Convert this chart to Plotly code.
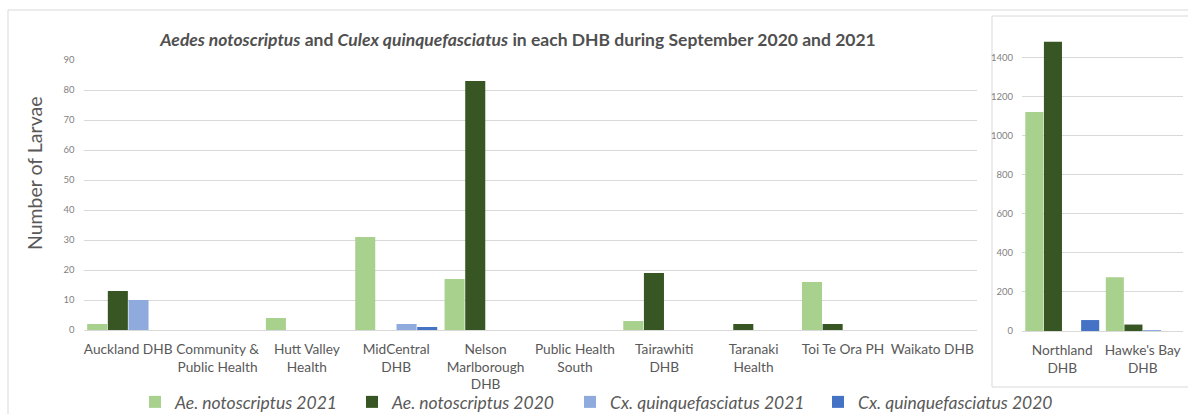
import plotly.graph_objects as go

W, H = 1188, 414

# ---------------- data ----------------
left_cats = ["Auckland DHB", "Community & Public Health", "Hutt Valley Health",
             "MidCentral DHB", "Nelson Marlborough DHB", "Public Health South",
             "Tairawhiti DHB", "Taranaki Health", "Toi Te Ora PH", "Waikato DHB"]
left_tick_text = ["Auckland DHB", "Community &<br>Public Health", "Hutt Valley<br>Health",
                  "MidCentral<br>DHB", "Nelson<br>Marlborough<br>DHB", "Public Health<br>South",
                  "Tairawhiti<br>DHB", "Taranaki<br>Health", "Toi Te Ora PH", "Waikato DHB"]
right_cats = ["Northland DHB", "Hawke's Bay DHB"]
right_tick_text = ["Northland<br>DHB", "Hawke's Bay<br>DHB"]

ae2021_left = [2, 0, 4, 31, 17, 0, 3, 0, 16, 0]
ae2020_left = [13, 0, 0, 0, 83, 0, 19, 2, 2, 0]
cx2021_left = [10, 0, 0, 2, 0, 0, 0, 0, 0, 0]
cx2020_left = [0, 0, 0, 1, 0, 0, 0, 0, 0, 0]

ae2021_right = [1120, 275]
ae2020_right = [1480, 33]
cx2021_right = [0, 5]
cx2020_right = [56, 0]

series_names = ["<i>Ae. notoscriptus 2021</i>", "<i>Ae. notoscriptus 2020</i>",
                "<i>Cx. quinquefasciatus 2021</i>", "<i>Cx. quinquefasciatus 2020</i>"]
colors = ["#A9D18E", "#375623", "#8FAADC", "#4472C4"]

left_vals = [ae2021_left, ae2020_left, cx2021_left, cx2020_left]
right_vals = [ae2021_right, ae2020_right, cx2021_right, cx2020_right]


def px_x(p):
    return p / W


def px_y(p):
    return 1 - p / H


FONT = "Lato"
legend_ids = ["legend", "legend2", "legend3", "legend4"]
legend_x_px = [135, 352, 570, 818]

fig = go.Figure()
for i in range(4):
    fig.add_trace(go.Bar(x=left_cats, y=left_vals[i], name=series_names[i],
                         marker=dict(color=colors[i], line=dict(width=0)),
                         legendgroup=str(i), legend=legend_ids[i], xaxis="x", yaxis="y"))
for i in range(4):
    fig.add_trace(go.Bar(x=right_cats, y=right_vals[i], name=series_names[i],
                         marker=dict(color=colors[i], line=dict(width=0)),
                         legendgroup=str(i), legend=legend_ids[i], showlegend=False,
                         xaxis="x2", yaxis="y2"))

grid = "#D9D9D9"
legend_layout = {}
for i in range(4):
    legend_layout[legend_ids[i]] = dict(
        orientation="h", x=px_x(legend_x_px[i]), xanchor="left", y=px_y(402),
        yanchor="middle", font=dict(family=FONT, size=17.5, color="#595959"),
        bgcolor="rgba(0,0,0,0)")

tick_common = dict(showgrid=False, showline=False, ticks="", ticklabelstandoff=9,
                   tickangle=0, automargin=False, type="category",
                   tickfont=dict(family=FONT, size=13.7, color="#595959"))
ytick_common = dict(showgrid=True, gridcolor=grid, gridwidth=1, zeroline=True,
                    zerolinecolor=grid, zerolinewidth=1, showline=False, ticks="",
                    ticklabelstandoff=8, automargin=False,
                    tickfont=dict(family=FONT, size=9.5, color="#7F7F7F"))

fig.update_layout(
    width=W, height=H,
    margin=dict(l=0, r=0, t=0, b=0, autoexpand=False),
    paper_bgcolor="white", plot_bgcolor="rgba(0,0,0,0)",
    font=dict(family=FONT, color="#595959"),
    barmode="group", bargap=0.075, bargroupgap=0.03,
    title=dict(text="<b><i>Aedes notoscriptus</i> and <i>Culex quinquefasciatus</i> in each DHB during September 2020 and 2021</b>",
               x=px_x(518), xanchor="center", y=px_y(40), yanchor="middle",
               font=dict(family=FONT, size=17.5, color="#505050")),
    xaxis=dict(domain=[px_x(83.5), px_x(977)], anchor="y",
               tickvals=left_cats, ticktext=left_tick_text, **tick_common),
    yaxis=dict(domain=[px_y(330), px_y(60)], anchor="x", range=[0, 90], dtick=10,
               **ytick_common),
    xaxis2=dict(domain=[px_x(1022), px_x(1183)], anchor="y2",
                tickvals=right_cats, ticktext=right_tick_text, **tick_common),
    yaxis2=dict(domain=[px_y(331), px_y(26)], anchor="x2", range=[0, 1560], dtick=200,
                **ytick_common),
    annotations=[
        dict(text="Number of Larvae", textangle=-90, xref="paper", yref="paper",
             x=px_x(34), y=px_y(174), xanchor="center", yanchor="middle",
             showarrow=False, font=dict(family=FONT, size=19.5, color="#595959")),
    ],
    shapes=[
        dict(type="rect", xref="paper", yref="paper", x0=px_x(8), x1=1.01,
             y0=-0.05, y1=px_y(10), line=dict(color="#D9D9D9", width=1),
             fillcolor="rgba(0,0,0,0)", layer="below"),
        dict(type="rect", xref="paper", yref="paper", x0=px_x(992), x1=1.01,
             y0=px_y(387), y1=px_y(16), line=dict(color="#D9D9D9", width=1),
             fillcolor="white", layer="below"),
    ],
    **legend_layout,
)

fig.write_html("out.html", config={"displayModeBar": False},
               post_script="document.body.style.margin='0';")
